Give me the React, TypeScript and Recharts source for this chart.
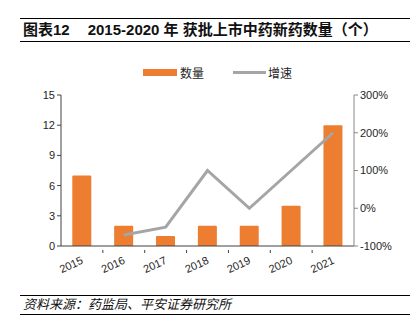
import { Bar, ComposedChart, Line, XAxis, YAxis } from "recharts"

const years = ["2015", "2016", "2017", "2018", "2019", "2020", "2021"]
const counts = [7, 2, 1, 2, 2, 4, 12]
const growth = [null, -71, -50, 100, 0, 100, 200]
const leftTicks = [0, 3, 6, 9, 12, 15]
const rightTicks = [-100, 0, 100, 200, 300]

const rows = years.map((year, i) => ({ year, count: counts[i], growth: growth[i] }))

const ORANGE = "#ED7D31"
const GRAY = "#A5A5A5"
const FONT = "'Liberation Sans', Arial, 'Noto Sans CJK SC', sans-serif"

function YearTick(props: any) {
  const { x, y, payload, width, visibleTicksCount, index } = props
  const band = width / visibleTicksCount
  return (
    <g>
      {index < visibleTicksCount - 1 && (
        <line x1={x + band / 2} x2={x + band / 2} y1={y - 4} y2={y - 1} stroke="#404040" strokeWidth={1} />
      )}
      <text
        x={x + 2}
        y={y + 9}
        transform={`rotate(-25 ${x + 2} ${y + 9})`}
        textAnchor="end"
        fontSize={11}
        fill="#262626"
        fontFamily={FONT}
      >
        {payload.value}
      </text>
    </g>
  )
}

function LegendBox() {
  const item = { display: "flex", alignItems: "center", fontSize: 12, color: "#262626" } as const
  return (
    <div style={{ position: "absolute", left: 143, top: 64, display: "flex", gap: 29, fontFamily: FONT }}>
      <div style={item}>
        <span style={{ width: 34, height: 7, background: ORANGE, marginRight: 3 }} />
        数量
      </div>
      <div style={item}>
        <span style={{ width: 33, height: 3, background: GRAY, marginRight: 2 }} />
        增速
      </div>
    </div>
  )
}

export default function App() {
  return (
    <div style={{ position: "absolute", left: 0, top: 0, width: 413, height: 335, background: "#fff", fontFamily: FONT }}>
      <div
        style={{
          position: "absolute",
          left: 20,
          top: 18,
          width: 390,
          height: 22,
          borderTop: "1.5px solid #000",
          borderBottom: "1.5px solid #000",
          fontWeight: "bold",
          fontSize: 15,
          lineHeight: "22px",
          color: "#111",
          whiteSpace: "nowrap",
        }}
      >
        <span style={{ marginLeft: 3 }}>图表12</span>
        <span style={{ marginLeft: 18 }}>2015-2020 年 获批上市中药新药数量（个）</span>
      </div>

      <LegendBox />

      <div style={{ position: "absolute", left: 0, top: 55 }}>
        <ComposedChart width={413} height={231} data={rows} margin={{ top: 40, right: 0, bottom: 0, left: 0 }} barCategoryGap="27%">
          <XAxis
            dataKey="year"
            height={40}
            tick={<YearTick />}
            tickLine={false}
            axisLine={{ stroke: "#404040" }}
            interval={0}
          />
          <YAxis
            yAxisId="left"
            width={61}
            domain={[0, 15]}
            ticks={leftTicks}
            tick={{ fontSize: 11, fill: "#262626", fontFamily: FONT }}
            axisLine={{ stroke: "#404040" }}
            tickLine={{ stroke: "#404040" }}
            tickSize={4}
          />
          <YAxis
            yAxisId="right"
            orientation="right"
            width={59}
            domain={[-100, 300]}
            ticks={rightTicks}
            tickFormatter={(v) => `${v}%`}
            tick={{ fontSize: 11, fill: "#262626", fontFamily: FONT }}
            axisLine={{ stroke: "#888" }}
            tickLine={{ stroke: "#888" }}
            tickSize={4}
          />
          <Bar yAxisId="left" dataKey="count" fill={ORANGE} radius={[1, 1, 0, 0]} isAnimationActive={false} />
          <Line
            yAxisId="right"
            dataKey="growth"
            stroke={GRAY}
            strokeWidth={3}
            dot={false}
            type="linear"
            connectNulls={false}
            isAnimationActive={false}
          />
        </ComposedChart>
      </div>

      <div
        style={{
          position: "absolute",
          left: 20,
          top: 295,
          width: 390,
          height: 18,
          borderTop: "1.5px solid #000",
          borderBottom: "1.5px solid #000",
          fontStyle: "italic",
          fontSize: 13,
          lineHeight: "18px",
          color: "#111",
          whiteSpace: "nowrap",
        }}
      >
        <span style={{ marginLeft: 3 }}>资料来源：药监局、平安证券研究所</span>
      </div>
    </div>
  )
}
